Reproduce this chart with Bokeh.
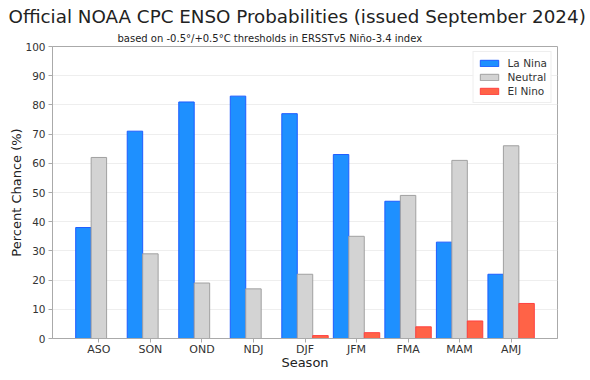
import numpy as np
from bokeh.plotting import figure
from bokeh.models import Title, FixedTicker, Range1d, Legend, LegendItem
from bokeh.embed import file_html
from bokeh.resources import INLINE

seasons = ["ASO", "SON", "OND", "NDJ", "DJF", "JFM", "FMA", "MAM", "AMJ"]
la_nina = [38, 71, 81, 83, 77, 63, 47, 33, 22]
neutral = [62, 29, 19, 17, 22, 35, 49, 61, 66]
el_nino = [0, 0, 0, 0, 1, 2, 4, 6, 12]
yticks = list(range(0, 101, 10))

FONT = "DejaVu Sans"
x = np.arange(len(seasons))
bw = 0.3

p = figure(frame_width=505, frame_height=292, output_backend="svg", toolbar_location=None,
           x_range=Range1d(-0.9, 8.9), y_range=Range1d(0, 100),
           min_border_left=52, min_border_right=28, min_border_top=46, min_border_bottom=30)

p.title.text = "Official NOAA CPC ENSO Probabilities (issued September 2024)"
p.title.text_font = FONT
p.title.text_font_size = "18.3px"
p.title.text_font_style = "normal"
p.title.text_color = "#222222"
p.title.align = "left"
p.title.offset = -44
p.title.standoff = 2

sub = Title(text="based on -0.5\u00b0/+0.5\u00b0C thresholds in ERSSTv5 Ni\u00f1o-3.4 index",
            text_font=FONT, text_font_size="10px", text_font_style="normal",
            text_color="#222222", align="left", offset=65, standoff=6)
p.add_layout(sub, "above")

r1 = p.vbar(x=x - bw, top=la_nina, width=bw, fill_color="#1E90FF", line_color="#1E5CFF", line_width=1)
r2 = p.vbar(x=x, top=neutral, width=bw, fill_color="#D3D3D3", line_color="#A0A0A0", line_width=1)
r3 = p.vbar(x=x + bw, top=el_nino, width=bw, fill_color="#FF6347", line_color="#FF4040", line_width=1)

legend = Legend(items=[LegendItem(label="La Nina", renderers=[r1]),
                       LegendItem(label="Neutral", renderers=[r2]),
                       LegendItem(label="El Nino", renderers=[r3])],
                location="top_right", label_text_font=FONT, label_text_font_size="10.5px",
                label_text_color="#333333", glyph_width=23, glyph_height=8,
                spacing=0, padding=4, margin=5, label_height=14, label_standoff=7,
                border_line_color="#dddddd", background_fill_alpha=0.9)
p.add_layout(legend, "center")

p.xaxis.ticker = FixedTicker(ticks=list(x))
p.xaxis.major_label_overrides = {int(i): s for i, s in zip(x, seasons)}
p.yaxis.ticker = FixedTicker(ticks=yticks)
p.xaxis.minor_tick_line_color = None
p.yaxis.minor_tick_line_color = None
p.xgrid.grid_line_color = None
p.ygrid.grid_line_color = "#eeeeee"

for ax in (p.xaxis[0], p.yaxis[0]):
    ax.axis_line_color = "#aaaaaa"
    ax.major_tick_line_color = "#aaaaaa"
    ax.major_tick_in = 0
    ax.major_tick_out = 4
    ax.major_label_text_font = FONT
    ax.major_label_text_color = "#333333"
    ax.axis_label_text_font = FONT
    ax.axis_label_text_font_style = "normal"
    ax.axis_label_text_color = "#222222"
    ax.axis_label_text_font_size = "13px"
p.xaxis.major_label_text_font_size = "11px"
p.yaxis.major_label_text_font_size = "10.5px"
p.xaxis.axis_label = "Season"
p.yaxis.axis_label = "Percent Chance (%)"
p.xaxis.axis_label_standoff = -4
p.yaxis.axis_label_standoff = -2
p.xaxis.major_label_standoff = 0
p.yaxis.major_label_standoff = 3
p.outline_line_color = "#aaaaaa"

open("out.html", "w").write(file_html(p, INLINE))
